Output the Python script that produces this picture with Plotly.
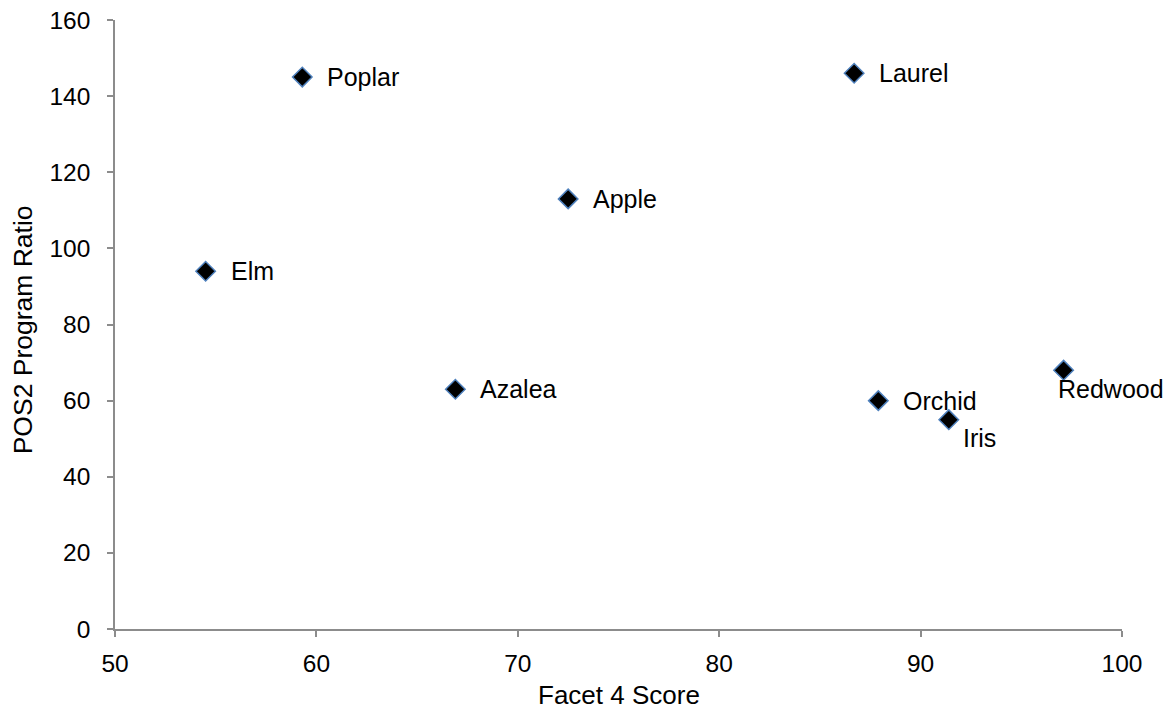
import plotly.graph_objects as go

# Facet 4 score vs. POS2 program ratio per site
names = ["Poplar", "Laurel", "Apple", "Elm", "Azalea", "Orchid", "Iris", "Redwood"]
facet4 = [59.3, 86.7, 72.5, 54.5, 66.9, 87.9, 91.4, 97.1]
pos2_ratio = [145, 146, 113, 94, 63, 60, 55, 68]

# label placement: (xanchor, xshift, yshift) per point
label_pos = {
    "Iris": ("left", 12, -18),
    "Redwood": ("center", 47, -19),
}

FONT = "Liberation Sans, Arial"

fig = go.Figure()
fig.add_trace(go.Scatter(
    x=facet4, y=pos2_ratio, mode="markers",
    marker=dict(symbol="diamond", size=15, color="black",
                line=dict(color="#4F81BD", width=1.5)),
    hoverinfo="skip", showlegend=False,
))

for n, xv, yv in zip(names, facet4, pos2_ratio):
    xa, xs, ys = label_pos.get(n, ("left", 23, 0))
    fig.add_annotation(x=xv, y=yv, text=n, showarrow=False,
                       xanchor=xa, yanchor="middle", xshift=xs, yshift=ys,
                       font=dict(family=FONT, size=25, color="black"))

# axis titles
fig.add_annotation(x=0.5, y=-0.108, xref="paper", yref="paper", text="Facet 4 Score",
                   showarrow=False, xanchor="center", yanchor="middle",
                   font=dict(family=FONT, size=26, color="black"))
fig.add_annotation(x=-0.0914, y=0.492, xref="paper", yref="paper", text="POS2 Program Ratio",
                   textangle=-90, showarrow=False, xanchor="center", yanchor="middle",
                   font=dict(family=FONT, size=26.5, color="black"))

axis_common = dict(
    showgrid=False, zeroline=False, showline=True, linecolor="#8c8c8c", linewidth=1.5,
    ticks="outside", ticklen=6, tickcolor="#8c8c8c", tickwidth=1.5, automargin=False,
    tickfont=dict(family=FONT, size=24.5, color="black"),
)

fig.update_layout(
    width=1169, height=713,
    paper_bgcolor="white", plot_bgcolor="white",
    margin=dict(l=115, r=47, t=20, b=84),
    xaxis=dict(range=[50, 100], dtick=10, ticklabelstandoff=6, **axis_common),
    yaxis=dict(range=[0, 160], dtick=20, ticklabelstandoff=12, **axis_common),
)

fig.write_html("out.html")
